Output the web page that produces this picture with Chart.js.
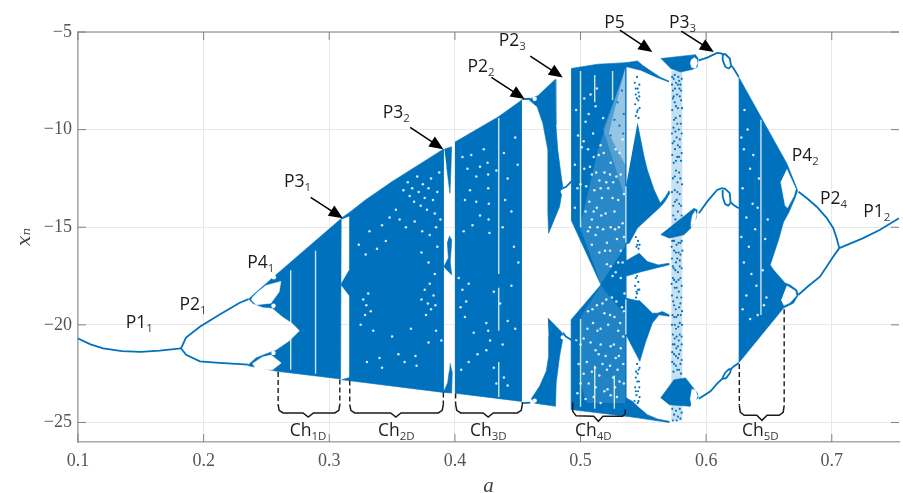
<!DOCTYPE html>
<html lang="en">
<head>
  <meta charset="UTF-8">
  <title>Bifurcation diagram</title>
  <script src="https://cdn.jsdelivr.net/npm/chart.js"></script>
  <style>
    body { margin: 0; background: white; }
    canvas { display: block; }
  </style>
</head>
<body>
<canvas id="chart" width="903" height="493"></canvas>
<script>
// all pairs below are [a, x_n]

const xTicks = [0.1, 0.2, 0.3, 0.4, 0.5, 0.6, 0.7];
const yTicks = [-25, -20, -15, -10, -5];

// periodic branches
const p11 = [[.100,-20.7],[.110,-21.0],[.120,-21.2],[.135,-21.35],[.150,-21.38],[.165,-21.32],[.182,-21.2]];
const p21Up = [[.182,-21.2],[.186,-20.65],[.197,-20.1],[.2125,-19.48],[.2284,-18.88],[.2357,-18.68]];
const p21Low = [[.182,-21.2],[.186,-21.53],[.197,-21.87],[.2125,-21.95],[.2357,-22.04]];
const p22 = [[.4542,-8.44],[.460,-8.42]];
const p23Low = [[.4542,-24.01],[.460,-23.98]];
const linkUp = [[.4859,-13.0],[.4883,-12.94],[.4952,-12.5]];
const linkLow = [[.4859,-20.4],[.4883,-20.6],[.4925,-20.76],[.4978,-20.92]];
const topChain = [[.5942,-6.45],[.6008,-6.31],[.6087,-6.07],[.6119,-6.10],[.6132,-6.14],[.6153,-6.14],[.6188,-6.36],[.6198,-6.70],[.6219,-6.87],[.6259,-7.30]];
const topRing = [[.6132,-6.14],[.6132,-6.45],[.6153,-6.79],[.618,-6.87],[.6198,-6.75]];
const midChain = [[.5942,-14.28],[.6008,-13.69],[.6087,-13.09],[.6127,-13.0],[.6151,-13.03],[.6188,-13.25],[.6194,-13.71],[.6219,-13.86],[.6259,-14.03]];
const midRing = [[.6131,-13.09],[.6132,-13.45],[.6151,-13.81],[.6175,-13.89],[.6194,-13.76]];
const lowChain = [[.5942,-23.79],[.6034,-23.40],[.6087,-23.01],[.6127,-22.77],[.6151,-22.45],[.6183,-22.27],[.6198,-22.26],[.6219,-22.13],[.6259,-21.95]];
const lowRing = [[.6127,-22.77],[.6159,-22.73],[.6191,-22.45],[.6198,-22.26]];
const p24Up = [[.6735,-13.18],[.68,-13.5],[.688,-13.95],[.6959,-14.52],[.7012,-15.05],[.7038,-15.55],[.706,-16.07]];
const p24Low = [[.6735,-18.46],[.6816,-18.0],[.6906,-17.53],[.7012,-16.5],[.706,-16.07]];
const p12 = [[.706,-16.07],[.725,-15.56],[.7381,-15.14],[.7535,-14.54]];

// chaotic bands, outline of each filled area
const bandCh1 = [[.2357,-18.68],[.2575,-17.44],[.3102,-14.52],[.3095,-14.6],[.309,-22.77],[.2585,-22.38],[.2357,-22.1],[.2357,-22.04],[.2416,-21.7],[.2495,-21.49],[.2575,-21.31],[.268,-20.85],[.2767,-20.30],[.2706,-19.91],[.2627,-19.57],[.2548,-19.14],[.2468,-19.09],[.2389,-18.89]];
const bandCh2 = [[.31,-14.52],[.3161,-14.24],[.3288,-13.60],[.3498,-12.67],[.371,-11.81],[.3908,-11.0],[.3908,-23.46],[.31,-22.81],[.3161,-22.70],[.3161,-18.51],[.31,-18.0],[.3095,-17.9],[.3161,-17.18],[.3161,-14.42],[.31,-14.58]];
const winUp = [[.3916,-11.0],[.3974,-10.88],[.3969,-11.9],[.3961,-13.26],[.3934,-11.9]];
const winMid = [[.3955,-15.44],[.3975,-15.65],[.3963,-16.77],[.3974,-17.44],[.3912,-17.03],[.3948,-16.57],[.394,-15.75]];
const winLow = [[.3961,-21.95],[.3979,-22.45],[.3974,-23.49],[.3908,-23.46],[.3942,-22.98],[.3955,-22.38]];
const bandCh3 = [[.4001,-10.64],[.4344,-9.35],[.4542,-8.44],[.4529,-8.5],[.4529,-23.92],[.4001,-23.5]];
const wedgeUp = [[.459,-8.44],[.4661,-8.26],[.4798,-7.43],[.4804,-9.77],[.4819,-11.05],[.4845,-12.33],[.4859,-12.94],[.4833,-13.95],[.4746,-15.31],[.474,-14.28],[.474,-12.58],[.474,-11.05],[.47,-9.68],[.4655,-8.83],[.4621,-8.65],[.459,-8.47]];
const wedgeLow = [[.474,-19.65],[.4845,-20.34],[.4867,-20.61],[.4856,-20.81],[.4833,-21.62],[.4806,-22.98],[.4801,-24.17],[.4635,-24.01],[.4608,-23.78],[.4674,-23.15],[.4727,-22.38],[.4746,-21.62],[.4746,-20.59]];
const bandCh4 = [[.4925,-6.87],[.5136,-6.65],[.5361,-6.57],[.5361,-24.68],[.4925,-24.34],[.4925,-19.74],[.5162,-17.95],[.4925,-14.63]];
const tailTop = [[.5361,-6.57],[.5453,-6.48],[.5493,-6.70],[.5572,-7.05],[.5638,-7.33],[.5704,-7.51],[.5699,-7.55],[.5599,-7.30],[.548,-6.96],[.5374,-6.79],[.5361,-6.79]];
const lobeA = [[.5453,-9.68],[.5506,-11.39],[.5532,-12.07],[.5586,-13.09],[.5635,-13.76],[.5675,-13.45],[.5704,-13.13],[.5711,-13.25],[.5675,-13.66],[.5639,-13.94],[.5453,-15.04],[.5387,-15.82],[.5361,-15.85],[.5361,-12.92]];
const lobeB = [[.5348,-16.77],[.5467,-16.33],[.5532,-16.76],[.562,-16.93],[.5704,-16.84],[.5707,-16.92],[.5612,-17.07],[.5477,-17.29],[.5374,-17.49],[.535,-17.44]];
const lobeC = [[.5361,-18.63],[.5477,-18.80],[.5572,-19.40],[.5612,-19.40],[.5651,-19.32],[.5704,-19.48],[.5703,-19.56],[.5625,-19.48],[.5572,-19.91],[.5519,-20.85],[.5472,-21.87],[.5369,-20.59],[.5361,-20.56]];
const lobeD = [[.5361,-23.73],[.5414,-23.92],[.5467,-24.25],[.5532,-24.60],[.5612,-24.82],[.5704,-24.94],[.5704,-25.0],[.5586,-24.89],[.5453,-24.76],[.5361,-24.68]];
const blobTop = [[.5638,-6.36],[.5915,-6.16],[.5937,-6.36],[.5929,-6.79],[.5889,-6.92],[.5797,-7.05],[.5717,-6.87]];
const blobMid = [[.5638,-15.39],[.5903,-14.03],[.5929,-14.12],[.5921,-14.53],[.5889,-14.97],[.5823,-15.39],[.5704,-15.56]];
const blobLow = [[.5638,-23.74],[.5744,-22.81],[.5836,-22.72],[.5929,-23.49],[.5937,-23.73],[.5873,-24.17],[.5704,-24.09]];
const bandCh5 = [[.6259,-7.30],[.6642,-11.73],[.6721,-12.99],[.6727,-13.14],[.6708,-13.50],[.6655,-14.28],[.6616,-14.73],[.6576,-15.65],[.651,-16.93],[.6536,-17.18],[.6628,-17.86],[.6666,-17.95],[.6721,-18.2],[.6735,-18.46],[.6695,-18.89],[.6616,-19.14],[.6259,-21.95]];
const column3 = [[.5723,-7.0],[.581,-7.0],[.581,-24.9],[.5723,-24.9]];

// thinner parts of band Ch4, lightened
const sparseTop = [[.5355,-6.85],[.5225,-10.2],[.5355,-11.8]];
const sparseTop2 = [[.5355,-7.0],[.518,-10.0],[.5355,-13.5]];
const sparseMid = [[.5355,-6.85],[.5136,-11.1],[.505,-13.5],[.4995,-15.0],[.5162,-17.9],[.5355,-16.0]];
const sparseLow = [[.5162,-18.0],[.5355,-19.5],[.5355,-24.0],[.505,-24.0],[.5,-23.0],[.5,-19.6]];

// white holes inside the bands
const holeA = [[.2383,-18.62],[.2429,-18.33],[.2495,-17.99],[.2614,-17.78],[.2601,-18.31],[.2535,-18.89],[.2418,-18.97],[.2379,-18.72]];
const holeB = [[.2389,-21.99],[.2468,-21.65],[.2537,-21.55],[.2617,-21.95],[.2548,-22.30],[.2416,-22.26]];
const holeC = [[.5902,-6.30],[.5925,-6.4],[.593,-6.6],[.5915,-6.85],[.5885,-6.82],[.5875,-6.6],[.5882,-6.42]];
const holeD = [[.5912,-14.15],[.5922,-14.35],[.5912,-14.75],[.5885,-15.0],[.588,-14.75],[.5893,-14.35]];
const holeE = [[.5885,-23.3],[.5915,-23.35],[.593,-23.65],[.5915,-24.0],[.5885,-24.15],[.5873,-23.75]];
const holeF = [[.6642,-12.03],[.6713,-13.04],[.6697,-13.40],[.6647,-14.0],[.663,-13.9],[.6594,-12.67]];
const holeG = [[.6642,-18.0],[.6709,-18.26],[.6717,-18.51],[.6666,-18.87],[.6619,-19.0],[.6598,-18.72]];
const smallHoles = [[.2556,-19.02],[.2559,-17.56],[.2556,-21.44],[.4635,-8.42],[.4635,-23.88],[.4859,-20.64],[.4859,-13.18]];

// thin white windows: [a, top, bottom]
const stripes = [[.2693,-17.2,-22.3],[.2891,-16.2,-22.5],[.4349,-9.4,-17.4],[.4349,-18.1,-20.3],[.4349,-21.9,-23.7],[.5,-7.0,-15.0],[.5,-19.7,-24.2],[.5113,-7.2,-8.6],[.5113,-22.1,-24.3],[.5255,-7.0,-8.5],[.5269,-22.6,-24.3],[.5361,-12.9,-15.8],[.5361,-18.7,-20.5],[.6436,-9.5,-19.5]];

// white specks where the points thin out
const specksCh2 = [[.359,-13.1],[.3625,-12.7],[.364,-13.4],[.366,-13.0],[.3675,-13.7],[.37,-12.4],[.3712,-13.2],[.3728,-13.9],[.3745,-12.8],[.376,-13.5],[.3778,-14.1],[.379,-13.0],[.381,-12.5],[.3825,-13.6],[.384,-14.3],[.386,-13.2],[.3875,-12.2],[.353,-14.1],[.348,-14.5],[.342,-14.9],[.356,-14.6],[.361,-15.0],[.368,-14.7],[.374,-15.2],[.38,-15.4],[.385,-15.0],[.3885,-14.6],[.3235,-15.9],[.329,-16.4],[.332,-15.2],[.338,-16.1],[.345,-15.7],[.327,-18.7],[.3295,-19.0],[.331,-18.4],[.333,-19.3],[.3285,-19.5],[.325,-20.0],[.335,-20.3],[.3734,-18.7],[.376,-18.2],[.3785,-18.9],[.381,-19.2],[.383,-18.5],[.3845,-19.0],[.377,-19.5],[.38,-17.9],[.384,-17.4],[.3734,-16.3],[.379,-16.8],[.386,-16.0],[.3892,-20.8],[.385,-20.3],[.379,-20.9],[.3686,-21.6],[.3695,-22.1],[.36,-21.9],[.355,-21.5],[.34,-21.7],[.33,-21.9],[.342,-22.2],[.35,-20.6],[.365,-20.2]];
const specksCh3 = [[.406,-11.4],[.41,-12.0],[.413,-11.3],[.417,-12.4],[.42,-11.9],[.423,-11.0],[.4265,-12.3],[.4265,-13.0],[.427,-13.8],[.4268,-14.6],[.4275,-15.3],[.426,-11.7],[.412,-13.1],[.408,-13.6],[.417,-13.7],[.42,-14.4],[.414,-14.9],[.407,-15.2],[.433,-12.1],[.439,-11.2],[.442,-12.5],[.44,-13.6],[.445,-14.2],[.438,-15.0],[.448,-10.4],[.45,-11.8],[.403,-17.6],[.406,-18.2],[.409,-18.8],[.411,-17.9],[.4045,-19.1],[.408,-19.6],[.425,-19.9],[.4265,-20.3],[.428,-20.8],[.425,-21.3],[.431,-18.3],[.436,-18.9],[.442,-19.8],[.448,-20.2],[.438,-21.0],[.445,-18.0],[.415,-20.4],[.418,-21.5],[.411,-21.9],[.405,-22.3],[.431,-22.2],[.439,-22.7],[.442,-23.1],[.433,-23.0],[.4505,-16.8],[.447,-16.0]];
const specksCh4 = [[.504,-14.2],[.507,-13.7],[.509,-14.6],[.511,-13.1],[.513,-14.0],[.515,-12.6],[.517,-13.5],[.519,-12.2],[.52,-14.3],[.522,-13.0],[.524,-11.7],[.526,-12.7],[.528,-11.0],[.53,-13.6],[.532,-12.3],[.5335,-14.8],[.506,-15.2],[.509,-15.9],[.512,-15.4],[.515,-16.3],[.518,-15.1],[.521,-15.8],[.524,-15.0],[.527,-14.2],[.529,-15.6],[.532,-16.2],[.5345,-13.3],[.5,-12.8],[.503,-12.0],[.501,-10.9],[.504,-9.6],[.506,-11.0],[.512,-8.8],[.51,-10.2],[.508,-8.2],[.518,-9.4],[.516,-10.8],[.513,-7.9],[.524,-17.0],[.528,-17.3],[.521,-16.9],[.532,-17.6],[.5345,-15.5],[.53,-16.8],[.506,-19.3],[.51,-19.9],[.513,-19.0],[.516,-20.2],[.519,-19.4],[.522,-20.0],[.525,-18.6],[.527,-19.6],[.53,-20.3],[.533,-19.1],[.508,-20.9],[.512,-21.3],[.516,-21.0],[.52,-21.6],[.524,-21.1],[.528,-21.7],[.532,-21.2],[.534,-22.0],[.505,-21.9],[.509,-22.4],[.515,-22.6],[.521,-22.3],[.526,-22.7],[.531,-22.9],[.512,-23.2],[.519,-23.4],[.5,-23.0],[.524,-23.6],[.529,-23.7],[.504,-23.8],[.516,-24.0],[.534,-20.6],[.535,-18.4],[.5,-21.0],[.4985,-22.0]];
const specksCh4b = [[.4965,-9.0],[.498,-10.3],[.4955,-11.8],[.4975,-13.0],[.4955,-14.0],[.503,-8.4],[.5065,-9.2],[.5025,-10.6],[.5075,-11.9],[.5045,-12.9],[.509,-12.3],[.5105,-11.4],[.5125,-12.2],[.5145,-11.3],[.516,-13.0],[.5185,-11.2],[.5205,-12.7],[.5235,-12.3],[.5255,-13.5],[.5285,-12.4],[.531,-11.2],[.5335,-10.5],[.5275,-15.1],[.5235,-16.2],[.5195,-16.2],[.5165,-14.4],[.5135,-15.0],[.5105,-14.2],[.5075,-15.0],[.5255,-17.5],[.5335,-16.8],[.5305,-15.0],[.5095,-19.2],[.5055,-20.2],[.5025,-20.7],[.5135,-20.3],[.5175,-18.9],[.5205,-18.7],[.5235,-19.5],[.5285,-18.8],[.5315,-19.9],[.5345,-19.3],[.5115,-22.2],[.5175,-22.0],[.5235,-22.1],[.5295,-22.3],[.5345,-23.0],[.5265,-21.0],[.5305,-21.6],[.5145,-21.5],[.5065,-23.0],[.5105,-23.7],[.5215,-23.3],[.5275,-23.2],[.5025,-22.5],[.4975,-23.5],[.4965,-20.8]];
const specksCh5 = [[.63,-11.0],[.633,-10.0],[.635,-12.0],[.629,-13.0],[.632,-14.5],[.637,-13.8],[.639,-15.1],[.634,-16.0],[.63,-16.8],[.628,-15.5],[.641,-14.0],[.647,-15.6],[.649,-14.6],[.636,-17.4],[.64,-18.0],[.632,-18.5],[.645,-17.2],[.648,-18.6],[.629,-19.2],[.635,-19.7],[.641,-19.5],[.646,-19.0],[.6375,-11.3],[.642,-12.5],[.6305,-9.0],[.628,-10.4]];

// loose points in the two sparse columns and the thin wedge
const dotsColumn2 = [[.5432,-7.6],[.5455,-7.9],[.5468,-7.7],[.544,-8.2],[.546,-8.5],[.5435,-8.7],[.547,-8.9],[.545,-9.1],[.5462,-9.4],[.544,-15.5],[.5458,-15.7],[.547,-15.9],[.5445,-16.0],[.544,-17.6],[.546,-17.8],[.5435,-18.0],[.5468,-18.2],[.545,-18.4],[.5442,-18.6],[.5465,-18.8],[.547,-22.2],[.5455,-22.5],[.544,-22.7],[.5465,-22.9],[.5435,-23.2],[.5458,-23.4],[.5445,-23.6],[.547,-23.7],[.543,-23.9],[.5455,-24.0],[.545,-7.3],[.544,-7.9],[.5462,-8.1],[.5448,-8.4],[.5455,-9.0],[.5468,-8.3],[.544,-9.3],[.545,-22.0],[.5462,-22.3],[.5442,-22.4],[.5452,-22.9],[.5468,-23.2],[.544,-23.4],[.5462,-23.9],[.545,-17.5],[.5458,-18.2],[.5445,-18.3],[.5452,-15.9],[.5462,-16.1]];
const dotsColumn3 = [[.5742,-7.4],[.576,-7.6],[.5778,-7.3],[.5795,-7.7],[.5735,-8.0],[.5768,-8.2],[.5787,-7.9],[.575,-8.6],[.58,-8.5],[.573,-9.0],[.5775,-8.9],[.5758,-9.4],[.5792,-9.3],[.574,-9.9],[.5782,-10.0],[.5765,-10.4],[.5805,-10.2],[.5733,-10.7],[.5752,-11.0],[.579,-10.9],[.577,-11.4],[.5742,-11.7],[.58,-11.6],[.576,-12.1],[.5785,-12.2],[.5735,-12.5],[.5772,-12.7],[.5808,-12.8],[.575,-13.1],[.579,-13.3],[.5765,-13.6],[.5738,-13.9],[.58,-13.9],[.5775,-14.2],[.5755,-14.6],[.573,-15.7],[.5765,-15.9],[.5795,-15.8],[.5745,-16.2],[.578,-16.3],[.581,-16.2],[.5728,-16.6],[.576,-16.8],[.579,-16.7],[.5742,-17.1],[.5775,-17.3],[.5805,-17.1],[.5735,-17.6],[.5762,-17.8],[.5795,-17.6],[.575,-18.1],[.5782,-18.3],[.5728,-18.5],[.5768,-18.6],[.5802,-18.6],[.5745,-19.0],[.5785,-19.1],[.5732,-19.5],[.5762,-19.6],[.5798,-19.5],[.575,-20.0],[.5778,-20.1],[.5808,-20.0],[.5735,-20.5],[.5765,-20.6],[.579,-20.5],[.5748,-21.0],[.5775,-21.1],[.5805,-21.0],[.573,-21.4],[.576,-21.6],[.5785,-21.5],[.5745,-22.0],[.5795,-22.0],[.577,-22.3],[.573,-24.3],[.576,-24.4],[.579,-24.3],[.5745,-24.6],[.5775,-24.7],[.5805,-24.5],[.5735,-24.9],[.5765,-24.9],[.5795,-24.8]];
const dotsColumn3b = [[.573,-7.3],[.575,-7.2],[.5785,-7.5],[.5805,-7.4],[.5728,-7.7],[.5752,-7.9],[.5775,-7.7],[.58,-8.0],[.5742,-8.3],[.579,-8.3],[.576,-8.8],[.5735,-8.4],[.5808,-8.9],[.5745,-9.5],[.577,-9.7],[.5798,-9.7],[.5728,-10.2],[.5755,-10.1],[.579,-10.5],[.5745,-10.6],[.5775,-10.8],[.576,-11.6],[.5785,-11.4],[.573,-11.3],[.5805,-11.2],[.575,-12.4],[.5795,-12.5],[.5728,-13.2],[.577,-13.2],[.5752,-13.7],[.5785,-13.8],[.5805,-14.4],[.5738,-14.4],[.579,-14.7],[.5745,-15.7],[.578,-15.8],[.5805,-15.7],[.5725,-16.0],[.576,-16.3],[.5795,-16.4],[.577,-16.6],[.5735,-17.0],[.579,-17.0],[.5755,-17.2],[.578,-17.7],[.5725,-17.9],[.5745,-17.7],[.5805,-18.0],[.5765,-18.1],[.5738,-18.8],[.5795,-18.9],[.5758,-19.2],[.5775,-19.5],[.5808,-19.3],[.5745,-19.6],[.5728,-20.0],[.579,-19.9],[.576,-20.2],[.575,-20.7],[.5782,-20.8],[.5805,-20.6],[.5735,-21.0],[.5762,-21.2],[.5795,-21.3],[.5745,-21.5],[.5775,-21.7],[.573,-21.9],[.5805,-21.8],[.576,-22.1],[.5785,-22.3],[.574,-22.4],[.58,-22.5]];
const dotsWedge = [[.533,-8.0],[.5295,-8.6],[.5345,-9.2],[.527,-9.5],[.531,-9.8],[.534,-10.2],[.524,-10.3]];

// Ch brackets
const braceCh1 = [[.2593,-24.09],[.2601,-24.38],[.2632,-24.51],[.2791,-24.51],[.2833,-24.72],[.2874,-24.51],[.3044,-24.51],[.3076,-24.38],[.3084,-24.09]];
const braceCh2 = [[.3163,-24.09],[.3172,-24.38],[.3203,-24.51],[.3489,-24.51],[.353,-24.72],[.3571,-24.51],[.3868,-24.51],[.3899,-24.38],[.3908,-24.09]];
const braceCh3 = [[.4006,-24.09],[.4015,-24.38],[.4046,-24.51],[.4224,-24.51],[.4265,-24.72],[.4306,-24.51],[.4497,-24.51],[.4528,-24.38],[.4537,-24.09]];
const braceCh4 = [[.4938,-23.98],[.4938,-24.43],[.4965,-24.66],[.5105,-24.68],[.5142,-24.94],[.5179,-24.68],[.5335,-24.68],[.5356,-24.55],[.5356,-24.33]];
const braceCh5 = [[.6264,-24.13],[.6272,-24.48],[.6303,-24.63],[.6403,-24.63],[.6444,-24.89],[.6485,-24.63],[.6582,-24.63],[.6613,-24.48],[.6621,-24.13]];
const dashes = [[.2593,-22.42,-24.09],[.3084,-22.8,-24.09],[.3163,-22.85,-24.09],[.3908,-23.46,-24.09],[.4006,-23.52,-24.09],[.4537,-23.95,-24.09],[.6264,-22.0,-24.13],[.6621,-19.2,-24.13]];

// text labels: name, subscript, left a, baseline x_n
const labelNames = ['P1','P2','P4','P3','P3','P2','P2','P5','P3','P4','P2','P1','Ch','Ch','Ch','Ch','Ch'];
const labelSubs = ['1','1','1','1','2','2','3','','3','2','4','2','1D','2D','3D','4D','5D'];
const labelA = [.138,.1808,.2347,.264,.3425,.41,.4349,.5189,.5704,.6682,.6906,.725,.2685,.3387,.412,.4956,.6285];
const labelX = [-20.14,-19.26,-17.07,-12.95,-9.38,-7.05,-5.72,-4.78,-4.78,-11.61,-13.82,-14.49,-25.67,-25.67,-25.67,-25.67,-25.67];

// arrows: [a from, x from, a tip, x tip]
const arrows = [[.2852,-13.47,.3108,-14.54],[.3644,-9.89,.3908,-11.0],[.4291,-7.33,.4555,-8.43],[.46,-6.24,.4859,-7.33],[.5313,-4.91,.5572,-6.02],[.5802,-4.95,.6061,-6.02]];

const BLUE = '#0072BD';
const datasets = [];

function toXY(points) {
  return points.map(p => ({ x: p[0], y: p[1] }));
}
function addArea(points, color) {
  datasets.push({ data: toXY(points), showLine: true, fill: 'shape', backgroundColor: color, borderColor: color, borderWidth: 0.6, pointRadius: 0 });
}
function addSoftArea(points, color) {
  datasets.push({ data: toXY(points), showLine: true, fill: 'shape', backgroundColor: color, borderWidth: 0, borderColor: 'transparent', pointRadius: 0 });
}
function addLine(points, width, color, extra) {
  datasets.push(Object.assign({ data: toXY(points), showLine: true, fill: false, borderColor: color || BLUE, borderWidth: width, pointRadius: 0 }, extra));
}
function addDots(points, radius, color) {
  datasets.push({ data: toXY(points), showLine: false, pointRadius: radius, pointBackgroundColor: color, pointBorderWidth: 0 });
}

// painted back to front
addSoftArea(column3, 'rgba(0,114,189,0.22)');
addDots(dotsColumn3, 1.1, BLUE);
addDots(dotsColumn3b, 1.1, BLUE);
addDots(dotsColumn2, 1.1, BLUE);
[bandCh1, bandCh2, winUp, winMid, winLow, bandCh3, wedgeUp, wedgeLow, bandCh4, tailTop, lobeA, lobeB, lobeC, lobeD, blobTop, blobMid, blobLow, bandCh5].forEach(b => addArea(b, BLUE));
addSoftArea(sparseMid, 'rgba(255,255,255,0.16)');
addSoftArea(sparseLow, 'rgba(255,255,255,0.12)');
addSoftArea(sparseTop2, 'rgba(255,255,255,0.2)');
addSoftArea(sparseTop, 'rgba(255,255,255,0.4)');
addDots(dotsWedge, 1.1, BLUE);
[holeA, holeB, holeC, holeD, holeE, holeF, holeG].forEach(h => addArea(h, 'white'));
addDots(smallHoles, 2.2, 'white');
stripes.forEach(s => addLine([[s[0], s[1]], [s[0], s[2]]], 1.4, 'rgba(255,255,255,0.8)'));
[specksCh2, specksCh3, specksCh4, specksCh4b, specksCh5].forEach(s => addDots(s, 1.25, 'rgba(255,255,255,0.85)'));
[p11, p21Up, p21Low, p22, p23Low, linkUp, linkLow, topChain, topRing, midChain, midRing, lowChain, lowRing, p24Up, p24Low, p12].forEach(l => addLine(l, 1.8));
[braceCh1, braceCh2, braceCh3, braceCh4, braceCh5].forEach(b => addLine(b, 1.5, '#1a1a1a'));
dashes.forEach(d => addLine([[d[0], d[1]], [d[0], d[2]]], 1.4, '#1a1a1a', { borderDash: [5, 3] }));

datasets.forEach((d, i) => { d.order = datasets.length - i; });

// frame, inner ticks, labels and arrows
const overlay = {
  id: 'overlay',
  afterDraw(chart) {
    const c = chart.ctx, area = chart.chartArea, sx = chart.scales.x, sy = chart.scales.y;
    c.save();
    c.strokeStyle = '#a8a8a8';
    c.lineWidth = 1.5;
    c.beginPath();
    c.moveTo(area.left, area.top); c.lineTo(area.right, area.top);
    c.stroke();
    c.strokeStyle = '#808080';
    c.lineWidth = 1;
    c.beginPath();
    xTicks.forEach(v => {
      const px = sx.getPixelForValue(v);
      c.moveTo(px, area.bottom); c.lineTo(px, area.bottom - 8);
      c.moveTo(px, area.top); c.lineTo(px, area.top + 8);
    });
    yTicks.forEach(v => {
      const py = sy.getPixelForValue(v);
      c.moveTo(area.left, py); c.lineTo(area.left + 8, py);
      c.moveTo(area.right, py); c.lineTo(area.right - 8, py);
    });
    c.stroke();

    // arrows
    c.strokeStyle = '#000';
    c.fillStyle = '#000';
    arrows.forEach(ar => {
      const x0 = sx.getPixelForValue(ar[0]), y0 = sy.getPixelForValue(ar[1]);
      const x1 = sx.getPixelForValue(ar[2]), y1 = sy.getPixelForValue(ar[3]);
      const ang = Math.atan2(y1 - y0, x1 - x0);
      c.lineWidth = 1.5;
      c.beginPath();
      c.moveTo(x0, y0); c.lineTo(x1 - 8 * Math.cos(ang), y1 - 8 * Math.sin(ang));
      c.stroke();
      c.beginPath();
      c.moveTo(x1, y1);
      c.lineTo(x1 - 14 * Math.cos(ang) + 6 * Math.sin(ang), y1 - 14 * Math.sin(ang) - 6 * Math.cos(ang));
      c.lineTo(x1 - 14 * Math.cos(ang) - 6 * Math.sin(ang), y1 - 14 * Math.sin(ang) + 6 * Math.cos(ang));
      c.closePath();
      c.fill();
    });

    // labels with subscripts
    c.textBaseline = 'alphabetic';
    c.textAlign = 'left';
    labelNames.forEach((name, i) => {
      const px = sx.getPixelForValue(labelA[i]), py = sy.getPixelForValue(labelX[i]);
      c.font = '17.5px "Open Sans"';
      c.fillStyle = '#1a1a1a';
      c.fillText(name, px, py);
      const w = c.measureText(name).width;
      c.font = '11.5px "Open Sans"';
      c.fillStyle = '#3a3a3a';
      c.fillText(labelSubs[i], px + w, py + 4);
    });
    c.restore();
  }
};

new Chart(document.getElementById('chart'), {
  type: 'scatter',
  data: { datasets: datasets },
  options: {
    responsive: false,
    animation: false,
    events: [],
    layout: { padding: { top: 32, right: 0, left: 0, bottom: 0 } },
    plugins: { legend: { display: false }, tooltip: { enabled: false }, title: { display: false } },
    scales: {
      x: {
        type: 'linear',
        min: 0.1,
        max: 0.7535,
        afterFit(scale) { scale.height = 51; },
        grid: { color: '#e8e8e8', lineWidth: 1, tickLength: 0 },
        border: { color: '#a8a8a8', width: 1.5 },
        ticks: {
          stepSize: 0.1,
          includeBounds: false,
          maxRotation: 0,
          padding: 8,
          color: '#555',
          font: { family: '"Liberation Serif"', size: 18 },
          callback: v => v.toFixed(1)
        },
        title: { display: true, text: 'a', color: '#444', padding: { top: 0, bottom: -6 }, font: { family: '"Liberation Serif"', size: 21, style: 'italic' } }
      },
      y: {
        type: 'linear',
        min: -26,
        max: -5,
        afterFit(scale) { scale.width = 78; },
        grid: { color: '#e8e8e8', lineWidth: 1, tickLength: 0 },
        border: { color: '#a8a8a8', width: 1.5 },
        ticks: {
          stepSize: 5,
          includeBounds: false,
          padding: 6,
          color: '#555',
          font: { family: '"Liberation Serif"', size: 18 },
          callback: v => '\u2212' + Math.abs(v)
        },
        title: { display: true, text: 'x\u2099', color: '#444', padding: { top: 14, bottom: 0 }, font: { family: '"DejaVu Serif"', size: 19, style: 'italic' } }
      }
    }
  },
  plugins: [overlay]
});
</script>
</body>
</html>
